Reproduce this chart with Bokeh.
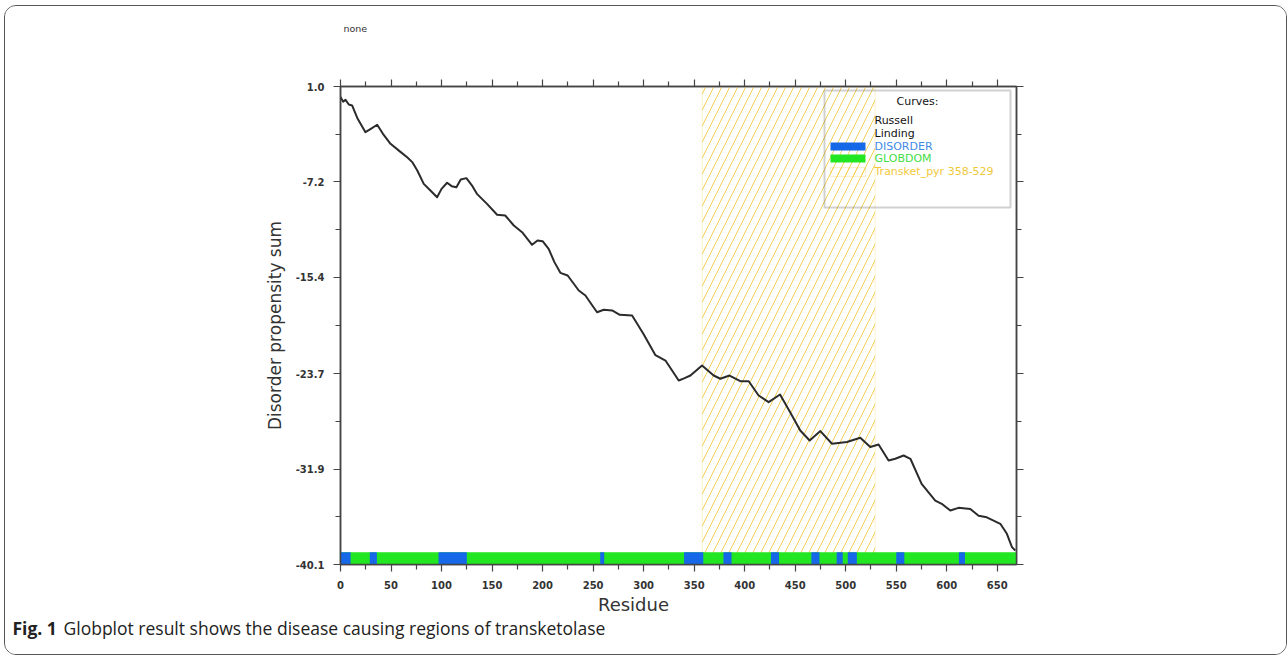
from bokeh.plotting import figure
from bokeh.layouts import column
from bokeh.models import Range1d, LinearAxis, FixedTicker, BoxAnnotation, Label, PrintfTickFormatter
from bokeh.embed import file_html
from bokeh.resources import INLINE

# ---------------- data ----------------
residue = [0, 2.6, 5, 8.2, 11.5, 17, 24.7, 30, 36.3, 42, 49.5, 59, 66, 71, 76, 82.4, 89, 95.6,
           100, 105.5, 110, 114.7, 119, 124.6, 130, 135, 145, 155, 163, 171.5, 179.7, 189.6,
           195, 200, 206, 211.7, 217.6, 224.8, 235.8, 242.4, 248, 253.9, 260.5, 268.8, 276.4,
           288.6, 300, 311.7, 321.6, 334.7, 340, 346.3, 357.8, 369.3, 375.9, 385, 395.7, 404,
           413.8, 423.7, 435, 445, 455, 464.3, 474.9, 486.4, 501.2, 514.4, 524.3, 532.5, 542.4,
           549, 557.3, 564, 575.1, 588.6, 595, 603.5, 611.6, 623.3, 631.5, 639.6, 653, 659.5,
           664.5, 667.8]
propensity = [0.1, -0.3, -0.15, -0.55, -0.63, -1.78, -2.93, -2.64, -2.29, -3.07, -3.93, -4.6,
              -5.08, -5.5, -6.22, -7.37, -7.94, -8.52, -7.8, -7.28, -7.57, -7.66, -7.0, -6.88,
              -7.5, -8.23, -9.09, -10.03, -10.09, -10.95, -11.53, -12.61, -12.24, -12.30, -12.96,
              -14.1, -15.02, -15.25, -16.54, -16.97, -17.68, -18.41, -18.20, -18.26, -18.63,
              -18.69, -20.3, -22.1, -22.56, -24.28, -24.1, -23.85, -22.99, -23.85, -24.13,
              -23.85, -24.34, -24.34, -25.57, -26.14, -25.48, -27.0, -28.58, -29.44, -28.63,
              -29.72, -29.57, -29.2, -30.0, -29.78, -31.16, -31.01, -30.73, -31.01, -33.16,
              -34.6, -34.88, -35.46, -35.23, -35.32, -35.9, -36.04, -36.6, -37.46, -38.61, -38.9]

disorder_start = [0, 29, 97, 257, 340, 379, 426, 466, 491, 502, 550, 612]
disorder_end = [10, 36, 125, 261, 359, 387, 434, 474, 497, 511, 558, 618]
globdom_start = [0]
globdom_end = [669]
domain_label = "Transket_pyr 358-529"
domain_start = 358
domain_end = 529

x_ticks = [0, 50, 100, 150, 200, 250, 300, 350, 400, 450, 500, 550, 600, 650]
x_minor = [25, 75, 125, 175, 225, 275, 325, 375, 425, 475, 525, 575, 625]
y_ticks = [1.0, -7.2, -15.4, -23.7, -31.9, -40.1]
y_minor = [-3.1, -11.3, -19.55, -27.8, -36.0]

x_min, x_max = 0, 669
y_min, y_max = -40.1, 1.0
band_top = -39.05

# ---------------- layout (page pixels) ----------------
OX, OY = 5, 6            # inner top-left of the rounded box
W = 1281                 # inner width
TOP_H = 64               # header strip (page y 6..70)
MAIN_TOP = OY + TOP_H    # 70
MAIN_BOT = 594
BOT_H = 60               # caption strip (page y 594..654)
FL, FR, FT, FB = 340, 1016, 86, 564


def sx(px):
    return px - FL


def sy(py):
    return FB - py


p = figure(width=W, height=MAIN_BOT - MAIN_TOP, x_range=Range1d(x_min, x_max),
           y_range=Range1d(y_min, y_max), output_backend="svg", toolbar_location=None,
           min_border_left=FL - OX, min_border_right=OX + W - FR,
           min_border_top=FT - MAIN_TOP, min_border_bottom=MAIN_BOT - FB,
           x_axis_type=None, y_axis_type=None, frame_align=False)
p.grid.visible = False
p.outline_line_color = "#444"
p.outline_line_width = 1.5
p.border_fill_color = "white"

AX = "#444"


def style_axis(ax, show_labels):
    ax.axis_line_color = AX
    ax.axis_line_width = 1.5
    ax.major_tick_line_color = AX
    ax.minor_tick_line_color = AX
    ax.major_tick_line_width = 1.2
    ax.minor_tick_line_width = 1.2
    ax.major_tick_in = 0
    ax.major_tick_out = 7
    ax.minor_tick_in = 0
    ax.minor_tick_out = 5
    ax.major_label_text_font = "DejaVu Sans"
    ax.major_label_text_font_style = "bold"
    if show_labels:
        ax.major_label_text_font_size = "10px"
        ax.major_label_text_color = "#333"
        ax.major_label_standoff = 9
    else:
        ax.major_label_text_font_size = "0px"
        ax.major_label_text_color = None
        ax.major_label_standoff = 0


for loc, show in [("below", True), ("above", False)]:
    ax = LinearAxis(ticker=FixedTicker(ticks=x_ticks, minor_ticks=x_minor))
    style_axis(ax, show)
    p.add_layout(ax, loc)

for loc, show in [("left", True), ("right", False)]:
    ax = LinearAxis(ticker=FixedTicker(ticks=y_ticks, minor_ticks=y_minor),
                    formatter=PrintfTickFormatter(format="%.1f"))
    style_axis(ax, show)
    if show:
        ax.axis_label = "Disorder propensity sum"
        ax.axis_label_text_font = "DejaVu Sans"
        ax.axis_label_text_font_size = "17px"
        ax.axis_label_text_font_style = "normal"
        ax.axis_label_text_color = "#333"
        ax.axis_label_standoff = 8
    p.add_layout(ax, loc)

# domain hatch
YEL = "#f3d056"
p.add_layout(BoxAnnotation(left=domain_start, right=domain_end, fill_color=None, fill_alpha=0,
                           hatch_pattern="/", hatch_color=YEL, hatch_scale=16, hatch_weight=1,
                           line_color=YEL, line_width=1, level="underlay"))

# bars
GREEN = "#22e622"
BLUE = "#1668e8"
p.quad(left=globdom_start, right=globdom_end, bottom=y_min, top=band_top,
       fill_color=GREEN, line_color=None)
p.quad(left=disorder_start, right=disorder_end, bottom=y_min, top=band_top,
       fill_color=BLUE, line_color=None)

# curve
p.line(residue, propensity, line_width=2, line_color="#2b2b2b", line_join="round")


def lab(fig, text, x, y, size, color="#333", font="DejaVu Sans", style="normal", align="left",
        baseline="middle", units="screen"):
    fig.add_layout(Label(x=x, y=y, x_units=units, y_units=units, text=text,
                         text_font=font, text_font_size=f"{size}px", text_color=color,
                         text_font_style=style, text_align=align, text_baseline=baseline))


# legend (inside the frame)
p.add_layout(BoxAnnotation(left=sx(824), right=sx(1010), top=sy(90), bottom=sy(207),
                           left_units="screen", right_units="screen", top_units="screen",
                           bottom_units="screen", fill_color=None, fill_alpha=0,
                           line_color="#666", line_width=2))
lab(p, "Curves:", sx(917), sy(101), 11, color="#111", align="center")
lab(p, "Russell", sx(874), sy(120), 11, color="#111")
lab(p, "Linding", sx(874), sy(133), 11, color="#111")
lab(p, "DISORDER", sx(874), sy(146), 11, color="#3f8be6")
lab(p, "GLOBDOM", sx(874), sy(158), 11, color="#45dd45")
lab(p, domain_label, sx(874), sy(171), 11, color="#f0c93a")


def swatch(py0, py1, **kw):
    p.add_layout(BoxAnnotation(left=sx(830), right=sx(865), top=sy(py0), bottom=sy(py1),
                               left_units="screen", right_units="screen", top_units="screen",
                               bottom_units="screen", **kw))


swatch(142, 150, fill_color=BLUE, fill_alpha=1, line_color=None)
swatch(154, 162, fill_color=GREEN, fill_alpha=1, line_color=None)
swatch(167, 176, fill_color=None, fill_alpha=0, hatch_pattern="/", hatch_color=YEL,
       hatch_scale=16, hatch_weight=1, line_color=YEL, line_width=1)


# ---------------- header and caption strips ----------------
def strip(h):
    f = figure(width=W, height=h, x_range=Range1d(0, W), y_range=Range1d(h, 0),
               output_backend="svg", toolbar_location=None, min_border=0,
               x_axis_type=None, y_axis_type=None, frame_align=False)
    f.grid.visible = False
    f.outline_line_color = None
    f.border_fill_color = "white"
    f.background_fill_color = "white"
    return f


head = strip(TOP_H)
lab(head, "none", 343 - OX, 28 - OY, 9.5, color="#333", units="data")

foot = strip(BOT_H)
lab(foot, "Residue", 633 - OX, 604 - MAIN_BOT, 18, align="center", units="data")
lab(foot, "Fig. 1", 12 - OX, 627 - MAIN_BOT, 17.5, color="#222", font="Open Sans",
    style="bold", units="data")
lab(foot, "Globplot result shows the disease causing regions of transketolase",
    63 - OX, 627 - MAIN_BOT, 17.5, color="#222", font="Open Sans", units="data")

layout = column(head, p, foot, spacing=0,
                styles={"border": "1px solid #555", "border-radius": "12px",
                        "margin-left": "4px", "margin-top": "5px", "overflow": "hidden",
                        "background-color": "white"})

open("out.html", "w").write(file_html(layout, INLINE))
